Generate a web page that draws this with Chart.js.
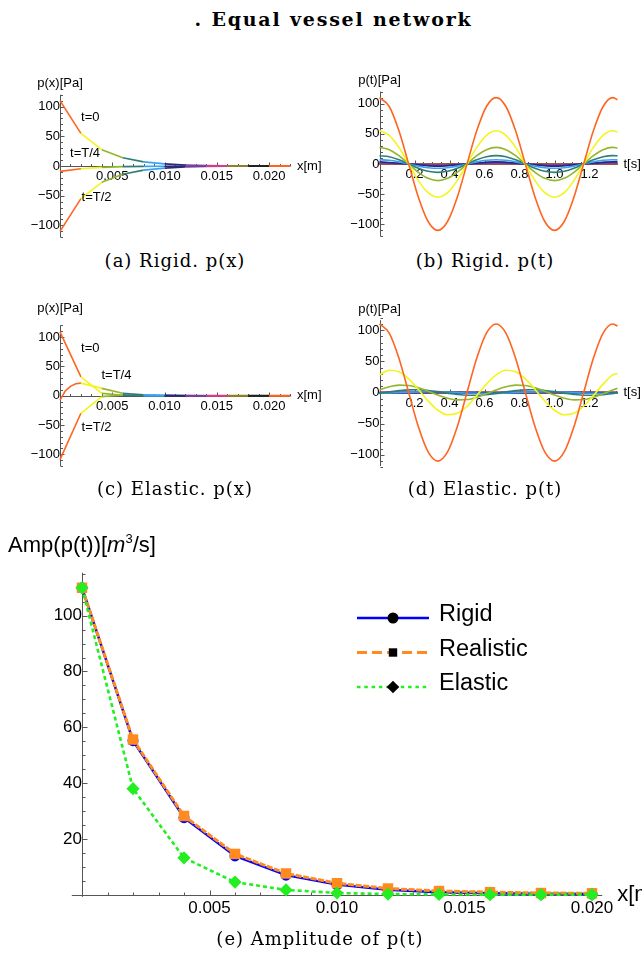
<!DOCTYPE html>
<html lang="en">
<head>
<meta charset="utf-8">
<title>Equal vessel network</title>
<script src="https://cdn.jsdelivr.net/npm/chart.js"></script>
<style>
  body { margin: 0; background: #fff; }
  .page { position: relative; width: 642px; height: 955px; overflow: hidden; }
  .page canvas { position: absolute; }
  .title { position: absolute; top: 8px; left: 0; width: 667px; text-align: center;
           font: bold 19px "DejaVu Serif", serif; letter-spacing: 1.8px; line-height: 22px; white-space: nowrap; }
  .caption { position: absolute; width: 300px; text-align: center;
             font: 18px "DejaVu Serif", serif; letter-spacing: 1px; line-height: 20px; white-space: nowrap; }
</style>
</head>
<body>
<div class="page">
  <div class="title">. Equal vessel network</div>

  <canvas id="rigidX" width="330" height="190" style="left:0;top:60px"></canvas>
  <canvas id="rigidT" width="312" height="190" style="left:330px;top:60px"></canvas>
  <div class="caption" style="left:25px;top:251px">(a) Rigid. p(x)</div>
  <div class="caption" style="left:335px;top:251px">(b) Rigid. p(t)</div>

  <canvas id="elasticX" width="330" height="190" style="left:0;top:290px"></canvas>
  <canvas id="elasticT" width="312" height="190" style="left:330px;top:290px"></canvas>
  <div class="caption" style="left:25px;top:479px">(c) Elastic. p(x)</div>
  <div class="caption" style="left:335px;top:479px">(d) Elastic. p(t)</div>

  <canvas id="amp" width="642" height="420" style="left:0;top:505px"></canvas>
  <div class="caption" style="left:170px;top:929px">(e) Amplitude of p(t)</div>
</div>

<script>
// node positions along the network [m], one vessel between two nodes
const xNodes = [0, 0.002, 0.004, 0.006, 0.008, 0.010, 0.012, 0.014, 0.016, 0.018, 0.020, 0.022];
const vesselLength = 0.002;
const vesselColors = ['#ff6421', '#f4f41c', '#93b62d', '#2e7d78', '#3aa2f2', '#28287a',
                      '#7a3e9d', '#d23d8d', '#8f8126', '#222222', '#ff6421'];

// p(x) snapshots, rigid walls
const rigidAtT0 = [110, 55, 27.5, 13.8, 7, 3.6, 1.8, 0.9, 0.5, 0.3, 0.2, 0.1];
const rigidAtT4 = [-9, -4.5, -2.3, -1.1, -0.6, -0.3, -0.2, -0.1, 0, 0, 0, 0];
const rigidAtT2 = [-110, -55, -27.5, -13.8, -7, -3.6, -1.8, -0.9, -0.5, -0.3, -0.2, -0.1];

// p(x) snapshots, elastic walls (T/4 has extra samples inside the first vessel)
const elasticAtT0 = [109, 32, 4, 0.8, 0.2, 0, 0, 0, 0, 0, 0, 0];
const xElasticT4 = [0, 0.0005, 0.001, 0.0015, 0.002, 0.004, 0.006, 0.008, 0.010, 0.012, 0.014, 0.016, 0.018, 0.020, 0.022];
const elasticAtT4 = [-7.5, 8, 16, 20.5, 21.5, 12.5, 4.2, 1.5, 0.5, 0.2, 0, 0, 0, 0, 0];
const elasticAtT2 = [-109, -30, -1.5, 1.2, 0.5, 0.1, 0, 0, 0, 0, 0, 0];

// time samples [s]
const tFine = [0, 0.0556, 0.1111, 0.1667, 0.2222, 0.2778, 0.3333, 0.3889, 0.4444, 0.5, 0.5556, 0.6111,
               0.6667, 0.7222, 0.7778, 0.8333, 0.8889, 0.9444, 1.0, 1.0556, 1.1111, 1.1667, 1.2222, 1.2778,
               1.3333, 1.36];
const tCoarse = [0, 0.1667, 0.3333, 0.5, 0.6667, 0.8333, 1.0, 1.1667, 1.3333, 1.36];

// p(t) at the inlet of each vessel, rigid walls (vessels 1-5 on tFine)
const rigidWaves = [
  [110, 95.3, 55, 0, -55, -95.3, -110, -95.3, -55, 0, 55, 95.3, 110, 95.3, 55, 0, -55, -95.3, -110, -95.3, -55, 0, 55, 95.3, 110, 106.5],
  [55, 47.6, 27.5, 0, -27.5, -47.6, -55, -47.6, -27.5, 0, 27.5, 47.6, 55, 47.6, 27.5, 0, -27.5, -47.6, -55, -47.6, -27.5, 0, 27.5, 47.6, 55, 53.2],
  [27.5, 23.8, 13.8, 0, -13.8, -23.8, -27.5, -23.8, -13.8, 0, 13.8, 23.8, 27.5, 23.8, 13.8, 0, -13.8, -23.8, -27.5, -23.8, -13.8, 0, 13.8, 23.8, 27.5, 26.6],
  [13.8, 12, 6.9, 0, -6.9, -12, -13.8, -12, -6.9, 0, 6.9, 12, 13.8, 12, 6.9, 0, -6.9, -12, -13.8, -12, -6.9, 0, 6.9, 12, 13.8, 13.4],
  [7, 6.1, 3.5, 0, -3.5, -6.1, -7, -6.1, -3.5, 0, 3.5, 6.1, 7, 6.1, 3.5, 0, -3.5, -6.1, -7, -6.1, -3.5, 0, 3.5, 6.1, 7, 6.8]
];
// vessels 6-11 on tCoarse
const rigidWavesSmall = [
  [3.6, 0, -3.6, 0, 3.6, 0, -3.6, 0, 3.6, 3.5],
  [1.8, 0, -1.8, 0, 1.8, 0, -1.8, 0, 1.8, 1.7],
  [0.9, 0, -0.9, 0, 0.9, 0, -0.9, 0, 0.9, 0.9],
  [0.5, 0, -0.5, 0, 0.5, 0, -0.5, 0, 0.5, 0.5],
  [0.3, 0, -0.3, 0, 0.3, 0, -0.3, 0, 0.3, 0.3],
  [0.2, 0, -0.2, 0, 0.2, 0, -0.2, 0, 0.2, 0.2]
];

// p(t), elastic walls (vessels 1-4 on tFine)
const elasticWaves = [
  [110, 95.3, 55, 0, -55, -95.3, -110, -95.3, -55, 0, 55, 95.3, 110, 95.3, 55, 0, -55, -95.3, -110, -95.3, -55, 0, 55, 95.3, 110, 106.5],
  [28.4, 35.7, 33.3, 22, 5, -13.5, -28.4, -35.7, -33.3, -22, -5, 13.5, 28.4, 35.7, 33.3, 22, 5, -13.5, -28.4, -35.7, -33.3, -22, -5, 13.5, 28.4, 30],
  [4.1, 9.2, 11.8, 11.3, 7.7, 2.1, -4.1, -9.2, -11.8, -11.3, -7.7, -2.1, 4.1, 9.2, 11.8, 11.3, 7.7, 2.1, -4.1, -9.2, -11.8, -11.3, -7.7, -2.1, 4.1, 6.7],
  [-1.4, 0.9, 3, 4.3, 4.4, 3.3, 1.4, -0.9, -3, -4.3, -4.4, -3.3, -1.4, 0.9, 3, 4.3, 4.4, 3.3, 1.4, -0.9, -3, -4.3, -4.4, -3.3, -1.4, -0.3]
];
// vessels 5-11 on tCoarse
const elasticWavesSmall = [
  [-1.3, 0.7, 1.3, -0.7, -1.3, 0.7, 1.3, -0.7, -1.3, -1.1],
  [-0.4, 0.1, 0.5, -0.1, -0.4, 0.1, 0.5, -0.1, -0.4, -0.3],
  [0.1, -0.1, -0.2, 0.1, 0.1, -0.1, -0.2, 0.1, 0.1, 0.1],
  [0.1, 0, -0.1, 0, 0.1, 0, -0.1, 0, 0.1, 0.1],
  [0, 0, 0, 0, 0, 0, 0, 0, 0, 0],
  [0, 0, 0, 0, 0, 0, 0, 0, 0, 0],
  [0, 0, 0, 0, 0, 0, 0, 0, 0, 0]
];

// amplitude of p(t) at the nodes x = 0 ... 0.020
const ampRigid = [110, 55.2, 27.6, 13.9, 7.0, 3.6, 1.8, 0.9, 0.5, 0.3, 0.2];
const ampRealistic = [110, 55.6, 28.2, 14.6, 7.6, 4.1, 2.2, 1.3, 0.9, 0.6, 0.5];
const ampElastic = [110, 38, 13.2, 4.5, 1.7, 0.6, 0.2, 0.1, 0, 0, 0];

// tick labels
const xTicksProfile = [0.005, 0.010, 0.015, 0.020];
const tTicks = [0.2, 0.4, 0.6, 0.8, 1.0, 1.2];
const pTicks = [-100, -50, 0, 50, 100];
const ampTicks = [20, 40, 60, 80, 100];

Chart.defaults.font.family = "'Liberation Sans', Arial, sans-serif";
Chart.defaults.color = '#000';
Chart.defaults.animation = false;
Chart.defaults.responsive = false;
Chart.defaults.plugins.legend.display = false;
Chart.defaults.plugins.tooltip.enabled = false;
Chart.defaults.elements.point.radius = 0;

function steps(from, to, step) {
  const out = [];
  for (let v = from; v <= to + step * 1e-6; v += step) out.push(+v.toFixed(6));
  return out;
}
const fmtP = v => (v < 0 ? '\u2212' + Math.abs(v) : String(v));

// axes crossing at the origin, labels next to the axis lines
function crossedScales(s) {
  return {
    x: {
      type: 'linear', min: s.x[0], max: s.x[1], position: {y: 0},
      grid: {display: false, drawTicks: false}, border: {display: false},
      afterBuildTicks: sc => { sc.ticks = s.xLabels.map(v => ({value: v})); },
      ticks: {autoSkip: false, maxRotation: 0, padding: s.pad[0], font: {size: s.font}, callback: s.xFmt}
    },
    y: {
      type: 'linear', min: s.y[0], max: s.y[1], position: {x: 0},
      grid: {display: false, drawTicks: false}, border: {display: false},
      afterBuildTicks: sc => { sc.ticks = s.yLabels.map(v => ({value: v})); },
      ticks: {autoSkip: false, padding: s.pad[1], font: {size: s.font}, callback: fmtP}
    }
  };
}

// axis lines, tick marks, axis names and curve notes
const mathAxes = {
  id: 'mathAxes',
  beforeDatasetsDraw(chart, args, o) {
    const {ctx, chartArea: a, scales: {x, y}} = chart;
    const px = Math.round(x.getPixelForValue(0)) + 0.5;
    const py = Math.round(y.getPixelForValue(0)) + 0.5;
    ctx.save();
    ctx.strokeStyle = o.color;
    ctx.lineWidth = 1;
    ctx.beginPath();
    ctx.moveTo(a.left, py); ctx.lineTo(a.right, py);
    ctx.moveTo(px, a.top); ctx.lineTo(px, a.bottom);
    const xt = (list, len) => list.forEach(v => {
      if (v === 0) return;
      const p = Math.round(x.getPixelForValue(v)) + 0.5;
      ctx.moveTo(p, py); ctx.lineTo(p, py - len);
    });
    const yt = (list, len) => list.forEach(v => {
      if (v === 0) return;
      const p = Math.round(y.getPixelForValue(v)) + 0.5;
      ctx.moveTo(px, p); ctx.lineTo(px + len, p);
    });
    xt(o.xMinor, o.minorLen); yt(o.yMinor, o.minorLen);
    xt(o.xMajor, o.majorLen); yt(o.yMajor, o.majorLen);
    ctx.stroke();
    ctx.restore();
  },
  afterDraw(chart, args, o) {
    const {ctx, chartArea: a, scales: {x, y}} = chart;
    const px = x.getPixelForValue(0);
    const py = y.getPixelForValue(0);
    ctx.save();
    ctx.fillStyle = '#000';
    ctx.textBaseline = 'middle';
    // y axis name, made of styled pieces
    const parts = o.yTitle.map(p => Object.assign({size: o.titleSize, style: '', dy: 0}, p));
    const fontOf = p => `${p.style} ${p.size}px 'Liberation Sans', Arial, sans-serif`;
    let w = 0;
    parts.forEach(p => { ctx.font = fontOf(p); p.w = ctx.measureText(p.t).width; w += p.w; });
    let cx = px - w / 2;
    const ty = a.top - o.yTitleGap;
    ctx.textAlign = 'left';
    parts.forEach(p => { ctx.font = fontOf(p); ctx.fillText(p.t, cx, ty + p.dy); cx += p.w; });
    // x axis name
    ctx.font = `${o.titleSize}px 'Liberation Sans', Arial, sans-serif`;
    ctx.fillText(o.xTitle, a.right + o.xTitleGap, py);
    // notes placed in data coordinates
    ctx.textAlign = 'center';
    (o.notes || []).forEach(n => ctx.fillText(n.text, x.getPixelForValue(n.x), y.getPixelForValue(n.y)));
    ctx.restore();
  }
};

function profileDataset(xs, ys) {
  return {
    data: xs.map((v, i) => ({x: v, y: ys[i]})),
    borderColor: vesselColors[0],
    borderWidth: 1.6,
    clip: false,
    segment: {
      borderColor: c => vesselColors[Math.min(10, Math.floor(c.p0.parsed.x / vesselLength + 1e-6))]
    }
  };
}

// one curve per vessel; the first vessel ends up on top
function waveDatasets(fine, small) {
  const sets = [];
  fine.forEach(vals => sets.push(tFine.map((t, i) => ({x: t, y: vals[i]}))));
  small.forEach(vals => sets.push(tCoarse.map((t, i) => ({x: t, y: vals[i]}))));
  return sets.map((data, i) => ({
    data, borderColor: vesselColors[i], borderWidth: 1.6, clip: false,
    cubicInterpolationMode: 'monotone'
  }));
}

const profileAxes = {
  xLabels: xTicksProfile, yLabels: pTicks, font: 13, pad: [3, 4], xFmt: v => v.toFixed(3)
};
const timeAxes = {
  xLabels: tTicks, yLabels: pTicks, font: 13, pad: [3, 4], xFmt: v => v.toFixed(1)
};
const profileMarks = {
  color: '#555', majorLen: 4, minorLen: 2.5, titleSize: 13, xTitleGap: 7,
  xMajor: xTicksProfile, xMinor: steps(0.001, 0.022, 0.001),
  yMajor: pTicks, yMinor: steps(-120, 120, 10),
  yTitle: [{t: 'p(x)[Pa]'}], xTitle: 'x[m]'
};
const timeMarks = {
  color: '#555', majorLen: 4, minorLen: 2.5, titleSize: 13, xTitleGap: 6,
  xMajor: tTicks, xMinor: steps(0.05, 1.35, 0.05),
  yMajor: pTicks, yMinor: steps(-120, 120, 10),
  yTitle: [{t: 'p(t)[Pa]'}], xTitle: 't[s]'
};

// (a) rigid p(x)
new Chart(document.getElementById('rigidX'), {
  type: 'line',
  data: {datasets: [
    profileDataset(xNodes, rigidAtT0),
    profileDataset(xNodes, rigidAtT4),
    profileDataset(xNodes, rigidAtT2)
  ]},
  options: {
    layout: {padding: {left: 60, right: 40, top: 34.7, bottom: 12.7}},
    scales: crossedScales(Object.assign({x: [0, 0.022], y: [-120, 120]}, profileAxes)),
    plugins: {mathAxes: Object.assign({}, profileMarks, {
      yTitleGap: 11,
      notes: [{text: 't=0', x: 0.0029, y: 82}, {text: 't=T/4', x: 0.0024, y: 21},
              {text: 't=T/2', x: 0.0035, y: -53}]
    })}
  },
  plugins: [mathAxes]
});

// (b) rigid p(t)
new Chart(document.getElementById('rigidT'), {
  type: 'line',
  data: {datasets: waveDatasets(rigidWaves, rigidWavesSmall)},
  options: {
    layout: {padding: {left: 49.5, right: 24.5, top: 31.6, bottom: 13.6}},
    scales: crossedScales(Object.assign({x: [0, 1.36], y: [-120, 120]}, timeAxes)),
    plugins: {mathAxes: Object.assign({}, timeMarks, {yTitleGap: 11})}
  },
  plugins: [mathAxes]
});

// (c) elastic p(x)
new Chart(document.getElementById('elasticX'), {
  type: 'line',
  data: {datasets: [
    profileDataset(xNodes, elasticAtT0),
    profileDataset(xElasticT4, elasticAtT4),
    profileDataset(xNodes, elasticAtT2)
  ]},
  options: {
    layout: {padding: {left: 60, right: 40, top: 35.4, bottom: 14}},
    scales: crossedScales(Object.assign({x: [0, 0.022], y: [-120, 120]}, profileAxes)),
    plugins: {mathAxes: Object.assign({}, profileMarks, {
      yTitleGap: 16.5,
      notes: [{text: 't=0', x: 0.0029, y: 81}, {text: 't=T/4', x: 0.0054, y: 34},
              {text: 't=T/2', x: 0.0035, y: -55}]
    })}
  },
  plugins: [mathAxes]
});

// (d) elastic p(t)
new Chart(document.getElementById('elasticT'), {
  type: 'line',
  data: {datasets: waveDatasets(elasticWaves, elasticWavesSmall)},
  options: {
    layout: {padding: {left: 49.5, right: 24.5, top: 30.2, bottom: 13.9}},
    scales: crossedScales(Object.assign({x: [0, 1.36], y: [-118, 116]}, timeAxes)),
    plugins: {mathAxes: Object.assign({}, timeMarks, {yTitleGap: 10.7})}
  },
  plugins: [mathAxes]
});

// legend drawn as line + marker + name
const lineLegend = {
  id: 'lineLegend',
  afterDraw(chart, args, o) {
    const ctx = chart.ctx;
    chart.data.datasets.forEach((ds, i) => {
      const yy = o.top + i * o.rowGap;
      const mx = o.left + o.lineLen / 2;
      ctx.save();
      ctx.strokeStyle = ds.borderColor;
      ctx.lineWidth = ds.borderWidth;
      ctx.setLineDash(o.dashes[i]);
      ctx.beginPath();
      ctx.moveTo(o.left, yy); ctx.lineTo(o.left + o.lineLen, yy);
      ctx.stroke();
      ctx.fillStyle = '#000';
      ctx.beginPath();
      const r = o.markers[i];
      if (ds.pointStyle === 'circle') ctx.arc(mx, yy, r, 0, Math.PI * 2);
      else if (ds.pointStyle === 'rect') ctx.rect(mx - r, yy - r, 2 * r, 2 * r);
      else { ctx.moveTo(mx - r, yy); ctx.lineTo(mx, yy - r); ctx.lineTo(mx + r, yy); ctx.lineTo(mx, yy + r); ctx.closePath(); }
      ctx.fill();
      ctx.font = `${o.size}px 'Liberation Sans', Arial, sans-serif`;
      ctx.textBaseline = 'middle';
      ctx.fillText(ds.label, o.left + o.lineLen + o.textGap, yy - 3);
      ctx.restore();
    });
  }
};

const ampNodes = xNodes.slice(0, 11);
const ampPoints = vals => ampNodes.map((v, i) => ({x: v, y: vals[i]}));

// (e) amplitude along the network
new Chart(document.getElementById('amp'), {
  type: 'line',
  data: {datasets: [
    {label: 'Rigid', data: ampPoints(ampRigid), borderColor: '#0000ff', borderWidth: 2.5,
     pointStyle: 'circle', pointRadius: 5.5, pointBackgroundColor: '#0000ff', pointBorderWidth: 0,
     clip: false, order: 2},
    {label: 'Realistic', data: ampPoints(ampRealistic), borderColor: '#ff8a1e', borderWidth: 3,
     borderDash: [6, 1.6], pointStyle: 'rect', pointRadius: 7.4, pointBackgroundColor: '#ff8a1e',
     pointBorderWidth: 0, clip: false, order: 1},
    {label: 'Elastic', data: ampPoints(ampElastic), borderColor: '#22ee22', borderWidth: 2.6,
     borderDash: [4, 3], pointStyle: 'rectRot', pointRadius: 6.6, pointBackgroundColor: '#22ee22',
     pointBorderWidth: 0, clip: false, order: 0}
  ]},
  options: {
    layout: {padding: {left: 71.8, right: 39.8, top: 67.7, bottom: 28.1}},
    scales: crossedScales({x: [-0.0004, 0.0204], y: [-0.8, 115.4], xLabels: xTicksProfile,
                           yLabels: ampTicks, font: 17, pad: [3, 6], xFmt: v => v.toFixed(3)}),
    plugins: {
      mathAxes: {
        color: '#555', majorLen: 5, minorLen: 3, titleSize: 22, xTitleGap: 15, yTitleGap: 26.7,
        xMajor: xTicksProfile, xMinor: steps(0.001, 0.020, 0.001),
        yMajor: ampTicks, yMinor: steps(5, 115, 5),
        yTitle: [{t: 'Amp(p(t))['}, {t: 'm', style: 'italic'}, {t: '3', size: 13, dy: -7}, {t: '/s]'}],
        xTitle: 'x[m]'
      },
      lineLegend: {
        left: 357, lineLen: 72, top: 113, rowGap: 34.5, textGap: 10, size: 23.5,
        markers: [5.5, 4.2, 6.3], dashes: [[], [10, 5], [3.5, 3.8]]
      }
    }
  },
  plugins: [mathAxes, lineLegend]
});
</script>
</body>
</html>
